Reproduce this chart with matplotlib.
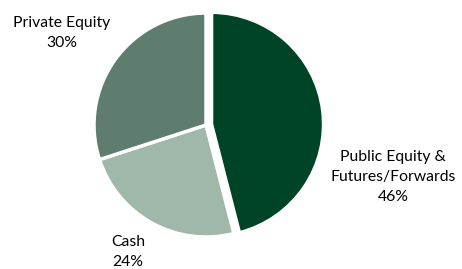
import matplotlib
matplotlib.use('Agg')
import matplotlib.pyplot as plt
import numpy as np

plt.rcParams['font.family'] = ['Lato', 'DejaVu Sans']

# data
labels = ['Public Equity &\nFutures/Forwards', 'Cash', 'Private Equity']
shares = [46, 24, 30]
colors = ['#004428', '#9fb8aa', '#5f7d6e']
explode = [0.05, 0, 0]

fig = plt.figure(figsize=(4.62, 2.69), dpi=100)
R = 112
cx, cy = 206, 125
ax = fig.add_axes([(cx - R) / 462, (269 - cy - R) / 269, 2 * R / 462, 2 * R / 269])

wedges, _ = ax.pie(shares, colors=colors, startangle=90, counterclock=False,
                   explode=explode, radius=1.0,
                   wedgeprops=dict(edgecolor='white', linewidth=2.5))
ax.set_xlim(-1, 1)
ax.set_ylim(-1, 1)
ax.set_aspect('equal')
ax.axis('off')

# label positions (figure pixels -> data units)
label_pos = [(393, 177), (128, 252), (62, 33)]
for lab, val, (px, py) in zip(labels, shares, label_pos):
    x = (px - cx) / R
    y = (cy - py) / R
    ax.text(x, y, f'{lab}\n{val}%', ha='center', va='center', fontsize=11.3,
            linespacing=1.55, color='#000000', clip_on=False)

fig.savefig('out.png', dpi=100)
